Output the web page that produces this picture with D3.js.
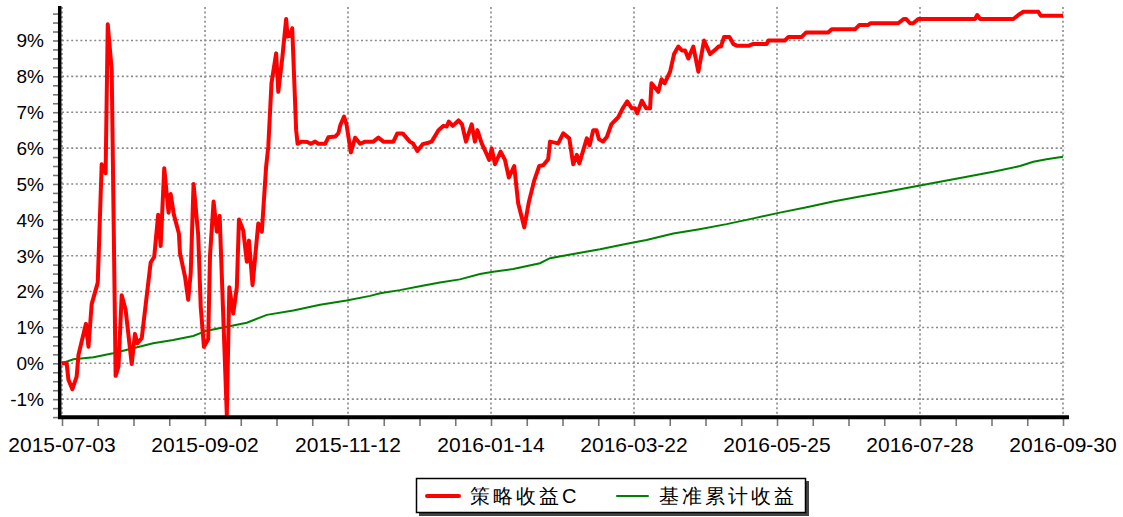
<!DOCTYPE html>
<html>
<head>
<meta charset="utf-8">
<script src="https://cdn.jsdelivr.net/npm/d3@7/dist/d3.min.js"></script>
<style>
  html, body { margin: 0; padding: 0; background: #fff; }
  svg { display: block; font-family: "Liberation Sans", Arial, sans-serif; }
</style>
</head>
<body>
<svg id="chart" width="1123" height="517"></svg>
<script>
// ---- Data (trading-day index, cumulative return %) ----
const xTickIdx = [0, 40, 80, 120, 160, 200, 240, 280];
const xTickLabels = ["2015-07-03", "2015-09-02", "2015-11-12", "2016-01-14", "2016-03-22", "2016-05-25", "2016-07-28", "2016-09-30"];
const yTickVals = [-1, 0, 1, 2, 3, 4, 5, 6, 7, 8, 9];
const yTickLabels = ["-1%", "0%", "1%", "2%", "3%", "4%", "5%", "6%", "7%", "8%", "9%"];
const seriesNames = ["策略收益C", "基准累计收益"];

const redSeries = [[0,0],[1.3,0],[1.8,-0.46],[2.9,-0.72],[4.1,-0.37],[4.6,0.23],[6.7,1.1],[7.4,0.46],[8.3,1.65],[10,2.25],[11.1,5.55],[12.2,5.3],[12.8,9.45],[13.9,8.18],[15,-0.35],[15.8,-0.09],[16.7,1.9],[17.8,1.49],[19.5,-0.02],[20.4,0.82],[21.1,0.56],[22.3,0.7],[24.8,2.81],[25.8,2.97],[26.9,4.14],[27.6,3.27],[28.6,5.44],[29.8,4.2],[30.4,4.72],[31.3,4.14],[32.7,3.62],[33,3.07],[34.4,2.42],[35.3,1.77],[36,2.51],[36.8,5.0],[38.1,3.58],[38.8,1.58],[39.7,0.46],[40.9,0.67],[41.4,3.0],[42.4,4.51],[43.3,3.67],[44.1,4.11],[46.1,-1.44],[46.8,2.12],[47.9,1.39],[48.9,2.12],[49.5,4.01],[50.7,3.7],[51.7,2.83],[52.3,3.42],[53.3,2.18],[54.9,3.9],[55.9,3.67],[57.1,5.48],[57.7,6.04],[58.6,7.81],[59.9,8.64],[60.5,7.57],[61.6,8.5],[62.7,9.6],[63.1,9.11],[63.8,9.15],[64.4,9.34],[65.5,6.5],[65.9,6.12],[67,6.18],[68.6,6.17],[69.6,6.12],[70.8,6.18],[71.7,6.12],[73.6,6.12],[74.5,6.3],[76.4,6.32],[77.3,6.41],[77.9,6.65],[78.9,6.88],[79.6,6.65],[80.8,5.88],[82,6.29],[83.4,6.12],[84.8,6.18],[87.1,6.18],[88.5,6.29],[89.9,6.18],[92.7,6.18],[93.8,6.41],[95.3,6.41],[97.3,6.18],[98.2,6.13],[99.4,5.92],[100.9,6.11],[102.5,6.15],[103.4,6.18],[105.3,6.5],[106.7,6.62],[107.6,6.6],[108.2,6.74],[109.3,6.62],[110.9,6.77],[111.9,6.66],[113,6.18],[114.6,6.66],[115.5,6.18],[116.2,6.5],[117.4,6.13],[118.8,5.83],[119.5,5.67],[120.2,5.99],[121.1,5.55],[122.7,5.9],[123.9,5.67],[125,5.18],[126.5,5.5],[127.6,4.46],[129.3,3.79],[130.6,4.5],[132.1,5.1],[133.5,5.5],[134.6,5.52],[136,5.69],[136.5,6.18],[138.8,6.13],[140.2,6.41],[141.9,6.27],[143,5.55],[144,5.81],[144.7,5.57],[146.8,6.27],[147.6,6.08],[148.6,6.5],[149.5,6.5],[150.2,6.25],[151.3,6.18],[152.4,6.31],[153.7,6.67],[155.6,6.86],[156.8,7.1],[158.1,7.3],[159.4,7.11],[160.3,7.11],[160.9,6.97],[162.2,7.32],[163.4,7.11],[164.5,7.11],[164.9,7.81],[166.8,7.57],[167.7,7.92],[168.6,7.81],[170.1,8.13],[171.2,8.62],[172.4,8.83],[173.4,8.72],[174.3,8.72],[175.2,8.5],[176.6,8.83],[178,8.13],[179.6,9.0],[181.3,8.62],[182.7,8.74],[183.6,8.83],[184.3,8.83],[185.2,9.1],[186.7,9.1],[187.8,8.9],[188.9,8.85],[192,8.85],[193.2,8.9],[197.1,8.9],[197.6,9.0],[202.2,9.0],[203.2,9.1],[206.9,9.1],[208.1,9.22],[214.3,9.22],[215.3,9.31],[221.8,9.31],[223,9.43],[225.5,9.43],[226.1,9.48],[233.9,9.48],[235.5,9.6],[236.1,9.6],[237.2,9.48],[238.1,9.48],[239.5,9.6],[255.4,9.6],[256,9.71],[256.8,9.6],[266.1,9.6],[267.5,9.71],[268.9,9.8],[273.1,9.8],[273.8,9.69],[280,9.69]];

const greenSeries = [[0,0],[3.2,0.11],[8.8,0.17],[14.3,0.28],[19.9,0.42],[25.5,0.56],[31.1,0.65],[36.7,0.76],[40.5,0.91],[46.1,1.02],[51.7,1.13],[57.3,1.35],[64.7,1.47],[72.2,1.63],[79.6,1.75],[86.2,1.88],[89,1.95],[94.5,2.04],[100.1,2.15],[105.7,2.25],[111.3,2.34],[116.9,2.49],[120.6,2.55],[126.2,2.63],[133.7,2.79],[136.5,2.93],[143,3.05],[150.5,3.18],[158,3.33],[163.5,3.44],[171,3.62],[178.3,3.74],[185.9,3.88],[193.4,4.04],[200.8,4.2],[208.3,4.35],[215.7,4.51],[223.2,4.65],[230.7,4.78],[238.1,4.92],[245.6,5.06],[253.1,5.2],[260.5,5.34],[268,5.5],[271.7,5.62],[275.4,5.69],[280,5.76]];

const seriesColors = ["#ff0000", "#008000"];

// ---- Layout ----
const svg = d3.select("#chart");
const x = d3.scaleLinear().domain([0, 280]).range([62, 1063]);
const y = d3.scaleLinear().domain([-1.5, 9.95]).range([417.1, 6.4]);

// grid
const grid = svg.append("g").attr("stroke", "#8a8a8a").attr("stroke-width", 1.6).attr("stroke-dasharray", "2,2.6");
grid.selectAll("line.h").data(yTickVals).join("line").attr("class", "h")
  .attr("x1", x(0)).attr("x2", x(280) + 2)
  .attr("y1", d => y(d)).attr("y2", d => y(d));
grid.selectAll("line.v").data(xTickIdx).join("line").attr("class", "v")
  .attr("x1", d => x(d)).attr("x2", d => x(d))
  .attr("y1", 7).attr("y2", 416);

// minor ticks y
const yMinor = d3.range(-1.5, 9.951, 0.25);
const yAx = svg.append("g").attr("transform", "translate(58,0)")
  .call(d3.axisLeft(y).tickValues(yMinor).tickSize(5).tickFormat(""));
yAx.select(".domain").remove();
yAx.selectAll(".tick line").attr("stroke", "#777").attr("stroke-width", 1.6);

// minor ticks x
const xMinor = d3.range(0, 281, 10);
const xAx = svg.append("g").attr("transform", "translate(0,419)")
  .call(d3.axisBottom(x).tickValues(xMinor).tickSize(7).tickFormat(""));
xAx.select(".domain").remove();
xAx.selectAll(".tick line").attr("stroke", "#777").attr("stroke-width", 1.6);

// y labels
svg.append("g").selectAll("text").data(yTickVals).join("text")
  .attr("x", 44).attr("y", d => y(d)).attr("dy", "0.36em")
  .attr("text-anchor", "end").attr("font-size", 19).attr("fill", "#000")
  .text((d, i) => yTickLabels[i]);

// x labels
svg.append("g").selectAll("text").data(xTickIdx).join("text")
  .attr("x", d => x(d)).attr("y", 451.5)
  .attr("text-anchor", "middle").attr("font-size", 21).attr("fill", "#000")
  .text((d, i) => xTickLabels[i]);

// lines
const line = d3.line().x(d => x(d[0])).y(d => y(d[1]));
svg.append("path").datum(greenSeries).attr("d", line)
  .attr("fill", "none").attr("stroke", seriesColors[1]).attr("stroke-width", 2);
svg.append("path").datum(redSeries).attr("d", line)
  .attr("fill", "none").attr("stroke", seriesColors[0]).attr("stroke-width", 4)
  .attr("stroke-linejoin", "round");

// axes lines (thick)
svg.append("line").attr("x1", 59.7).attr("x2", 59.7).attr("y1", 6).attr("y2", 419)
  .attr("stroke", "#000").attr("stroke-width", 3.5);
svg.append("line").attr("x1", 58).attr("x2", 1069).attr("y1", 417.3).attr("y2", 417.3)
  .attr("stroke", "#000").attr("stroke-width", 4);

// legend
const lg = svg.append("g");
lg.append("rect").attr("x", 419).attr("y", 481).attr("width", 390).attr("height", 35).attr("fill", "#444");
lg.append("rect").attr("x", 416.5).attr("y", 478.5).attr("width", 389).attr("height", 34)
  .attr("fill", "#fff").attr("stroke", "#000").attr("stroke-width", 1.5);
const legendItems = [
  { name: seriesNames[0], color: seriesColors[0], w: 4, x0: 427, x1: 459, tx: 470 },
  { name: seriesNames[1], color: seriesColors[1], w: 2, x0: 617, x1: 648, tx: 659 }
];
legendItems.forEach(it => {
  lg.append("line").attr("x1", it.x0).attr("x2", it.x1).attr("y1", 496).attr("y2", 496)
    .attr("stroke", it.color).attr("stroke-width", it.w).attr("stroke-linecap", "round");
  lg.append("text").attr("x", it.tx).attr("y", 503).attr("font-size", 20)
    .attr("letter-spacing", "3px").attr("fill", "#000").text(it.name);
});
</script>
</body>
</html>
